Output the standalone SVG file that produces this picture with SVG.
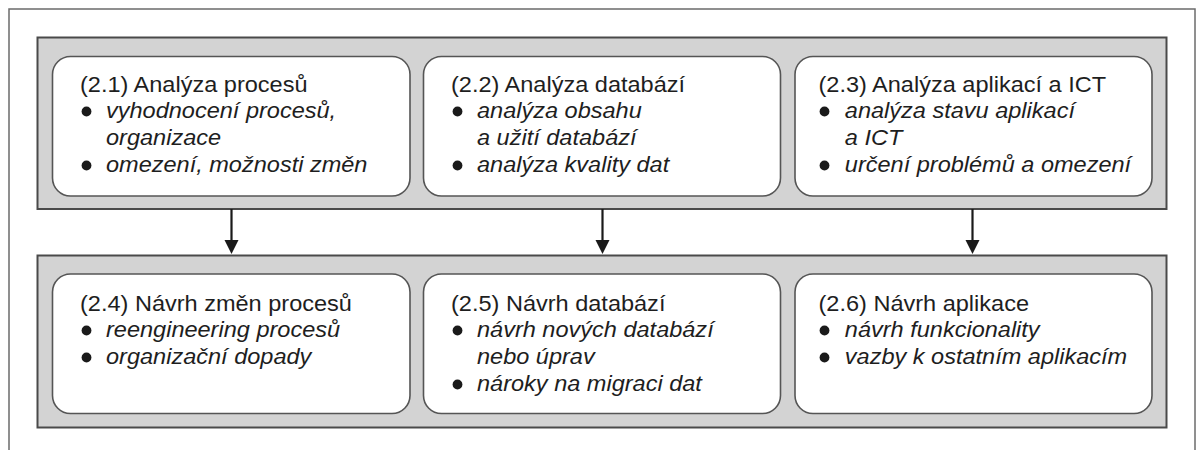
<svg xmlns="http://www.w3.org/2000/svg" width="1197" height="450" viewBox="0 0 1197 450">
<style>
.frame{fill:#fff;stroke:#6b6b6b;stroke-width:1.5}
.band{fill:#d3d3d3;stroke:#4a4a4a;stroke-width:2}
.node{fill:#fff;stroke:#555;stroke-width:1.6}
.t{font-family:"Liberation Sans",Arial,sans-serif;font-size:22px;fill:#1e1e1e}
.i{font-style:italic}
.b{fill:#1a1a1a}
.conn{stroke:#1a1a1a;stroke-width:2.2;fill:none}
.head{fill:#1a1a1a}
</style>
<rect class="frame" x="9" y="9" width="1186" height="460"/>
<rect class="band" x="37.5" y="37.5" width="1129" height="171.5"/>
<rect class="band" x="37.5" y="255.5" width="1129" height="172"/>
<g id="n21">
<rect class="node" x="52.5" y="56.5" width="357.5" height="139.5" rx="18"/>
<circle class="b" cx="86.5" cy="111.5" r="4.9"/><circle class="b" cx="86.5" cy="165.5" r="4.9"/>
<g transform="translate(80,0) scale(1.07,1)">
<text class="t" x="0" y="92">(2.1) Analýza procesů</text>
<text class="t i" x="24.3" y="118.5">vyhodnocení procesů,</text>
<text class="t i" x="24.3" y="145.5">organizace</text>
<text class="t i" x="24.3" y="172.5">omezení, možnosti změn</text>
</g>
</g>
<g id="n22">
<rect class="node" x="423.5" y="56.5" width="357" height="139.5" rx="18"/>
<circle class="b" cx="457.5" cy="111.5" r="4.9"/><circle class="b" cx="457.5" cy="165.5" r="4.9"/>
<g transform="translate(451,0) scale(1.07,1)">
<text class="t" x="0" y="92">(2.2) Analýza databází</text>
<text class="t i" x="24.3" y="118.5">analýza obsahu</text>
<text class="t i" x="24.3" y="145.5">a užití databází</text>
<text class="t i" x="24.3" y="172.5">analýza kvality dat</text>
</g>
</g>
<g id="n23">
<rect class="node" x="795" y="56.5" width="357" height="139.5" rx="18"/>
<circle class="b" cx="824.5" cy="111.5" r="4.9"/><circle class="b" cx="824.5" cy="165.5" r="4.9"/>
<g transform="translate(818.5,0) scale(1.07,1)">
<text class="t" x="0" y="92">(2.3) Analýza aplikací a ICT</text>
<text class="t i" x="24.6" y="118.5">analýza stavu aplikací</text>
<text class="t i" x="24.6" y="145.5">a ICT</text>
<text class="t i" x="24.6" y="172.5">určení problémů a omezení</text>
</g>
</g>
<g id="n24">
<rect class="node" x="52.5" y="274" width="357.5" height="139.5" rx="18"/>
<circle class="b" cx="86.5" cy="330.5" r="4.9"/><circle class="b" cx="86.5" cy="357.5" r="4.9"/>
<g transform="translate(80,0) scale(1.07,1)">
<text class="t" x="0" y="311">(2.4) Návrh změn procesů</text>
<text class="t i" x="24.3" y="337.5">reengineering procesů</text>
<text class="t i" x="24.3" y="364.5">organizační dopady</text>
</g>
</g>
<g id="n25">
<rect class="node" x="423.5" y="274" width="357" height="139.5" rx="18"/>
<circle class="b" cx="457.5" cy="330.5" r="4.9"/><circle class="b" cx="457.5" cy="384.5" r="4.9"/>
<g transform="translate(451,0) scale(1.07,1)">
<text class="t" x="0" y="311">(2.5) Návrh databází</text>
<text class="t i" x="24.3" y="337.5">návrh nových databází</text>
<text class="t i" x="24.3" y="364.5">nebo úprav</text>
<text class="t i" x="24.3" y="391.5">nároky na migraci dat</text>
</g>
</g>
<g id="n26">
<rect class="node" x="795" y="274" width="357" height="139.5" rx="18"/>
<circle class="b" cx="824.5" cy="330.5" r="4.9"/><circle class="b" cx="824.5" cy="357.5" r="4.9"/>
<g transform="translate(818.5,0) scale(1.07,1)">
<text class="t" x="0" y="311">(2.6) Návrh aplikace</text>
<text class="t i" x="24.6" y="337.5">návrh funkcionality</text>
<text class="t i" x="24.6" y="364.5">vazby k ostatním aplikacím</text>
</g>
</g>
<g id="connectors">
<line class="conn" x1="231.5" y1="209" x2="231.5" y2="242"/>
<polygon class="head" points="224.5,240 238.5,240 231.5,254"/>
<line class="conn" x1="602.5" y1="209" x2="602.5" y2="242"/>
<polygon class="head" points="595.5,240 609.5,240 602.5,254"/>
<line class="conn" x1="972.5" y1="209" x2="972.5" y2="242"/>
<polygon class="head" points="965.5,240 979.5,240 972.5,254"/>
</g>
</svg>
